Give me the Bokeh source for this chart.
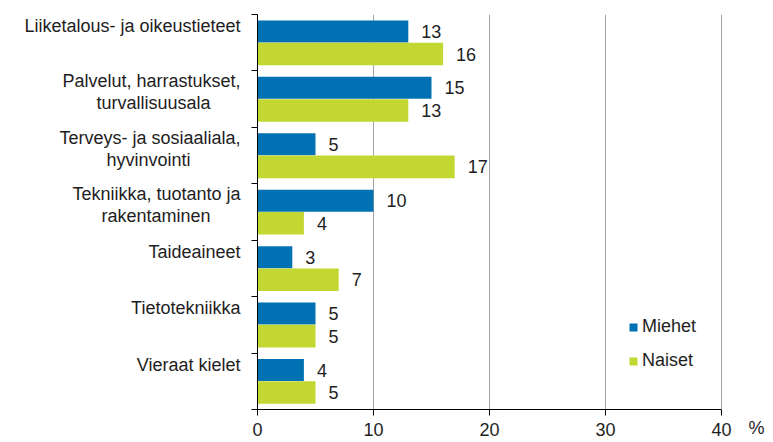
from bokeh.plotting import figure
from bokeh.models import ColumnDataSource, Range1d, FixedTicker, Legend, LegendItem, LinearAxis
from bokeh.core.properties import value
from bokeh.embed import file_html
from bokeh.resources import INLINE

categories = [
    "Liiketalous- ja oikeustieteet",
    "Palvelut, harrastukset,\nturvallisuusala",
    "Terveys- ja sosiaaliala,\nhyvinvointi",
    "Tekniikka, tuotanto ja\nrakentaminen",
    "Taideaineet",
    "Tietotekniikka",
    "Vieraat kielet",
]
miehet = [13, 15, 5, 10, 3, 5, 4]
naiset = [16, 13, 17, 4, 7, 5, 5]
x_ticks = [0, 10, 20, 30, 40]
series_names = ["Miehet", "Naiset"]
unit_label = "%"

BLUE = "#0071b3"
GREEN = "#c2d731"
FONT = "Liberation Sans"
TXT = "#1e1e1e"

# approximate Arial / Liberation Sans advance widths (per 1000 em), used to
# centre the lines of the two-line category names like the original
ADV = {c: 556 for c in "abdeghnopqu"}
ADV.update({"c": 500, "f": 278, "i": 222, "j": 222, "k": 500, "l": 222, "m": 833,
            "r": 333, "s": 500, "t": 278, "v": 500, "w": 722, "x": 500, "y": 500,
            "z": 500, "L": 556, "P": 667, "T": 611, "V": 667, ",": 278, "-": 333,
            " ": 278})
NBSP = "\u00a0"


def width_em(s):
    return sum(ADV.get(ch, 556) for ch in s) / 1000.0


def centred(label):
    lines = label.split("\n")
    if len(lines) == 1:
        return label
    wmax = max(width_em(l) for l in lines)
    out = []
    for l in lines:
        pad = int(round((wmax - width_em(l)) / 2 / 0.278))
        out.append(l + NBSP * pad)
    return "\n".join(out)


W, H = 773, 442
FRAME_L, FRAME_R, FRAME_T, FRAME_B = 257, 756, 14, 409
px_per_x = (721 - FRAME_L) / 40.0
x_end = (FRAME_R - FRAME_L) / px_per_x

n = len(categories)
px_per_band = (FRAME_B - FRAME_T) / n
tops = [n - i for i in range(n)]
blue_y = [t - 0.3 for t in tops]
green_y = [t - 0.7 for t in tops]

p = figure(width=W, height=H, output_backend="svg", toolbar_location=None,
           x_range=Range1d(0, x_end), y_range=Range1d(0, n),
           min_border_left=FRAME_L, min_border_right=W - FRAME_R,
           min_border_top=FRAME_T, min_border_bottom=H - FRAME_B)
p.outline_line_color = None
p.background_fill_color = "white"

src_m = ColumnDataSource(dict(y=blue_y, v=miehet, t=[str(v) for v in miehet]))
src_n = ColumnDataSource(dict(y=green_y, v=naiset, t=[str(v) for v in naiset]))

rm = p.hbar(y="y", right="v", left=0, height=0.39, source=src_m, fill_color=BLUE, line_color=None)
rn = p.hbar(y="y", right="v", left=0, height=0.40, source=src_n, fill_color=GREEN, line_color=None)

for src in (src_m, src_n):
    p.text(x="v", y="y", text="t", source=src, x_offset=13, text_align="left",
           text_baseline="middle", text_font=value(FONT), text_font_size="18px", text_color=TXT)

# x axis
xa = p.xaxis[0]
xa.ticker = FixedTicker(ticks=x_ticks)
xa.bounds = (x_ticks[0], x_ticks[-1])
xa.major_tick_out = 6
xa.major_tick_in = 0
xa.minor_tick_out = 0
xa.minor_tick_in = 0
xa.major_label_standoff = 7
xa.major_label_text_font = FONT
xa.major_label_text_font_size = "18px"
xa.major_label_text_color = TXT
xa.axis_line_color = "black"
xa.major_tick_line_color = "black"
xa.axis_label = unit_label
xa.axis_label_align = "end"
xa.axis_label_standoff = -21
xa.axis_label_text_font = FONT
xa.axis_label_text_font_size = "18px"
xa.axis_label_text_font_style = "normal"
xa.axis_label_text_color = TXT

# y axis with category boundary ticks
ya = p.yaxis[0]
bounds_ticks = list(range(n + 1))
ya.ticker = FixedTicker(ticks=bounds_ticks)
ya.major_label_overrides = {t: "" for t in bounds_ticks}
ya.major_tick_out = 6
ya.major_tick_in = 0
ya.minor_tick_out = 0
ya.minor_tick_in = 0
ya.major_label_standoff = 0
ya.axis_line_color = "black"
ya.major_tick_line_color = "black"

# y axis carrying the category names
label_y = []
for cat, top in zip(categories, tops):
    nl = cat.count("\n")
    label_y.append(round(top - (11.5 + nl * 10.0) / px_per_band, 4))
la = LinearAxis(ticker=FixedTicker(ticks=label_y),
                major_label_overrides={y: centred(c) for y, c in zip(label_y, categories)},
                axis_line_color=None, major_tick_line_color=None, minor_tick_line_color=None,
                major_tick_out=0, major_tick_in=0, minor_tick_out=0, minor_tick_in=0,
                major_label_standoff=11, major_label_text_font=FONT,
                major_label_text_font_size="18px", major_label_text_color=TXT,
                major_label_text_line_height=1.1)
p.add_layout(la, "left")

p.xgrid.ticker = FixedTicker(ticks=x_ticks[1:])
p.xgrid.grid_line_color = "#a6a6a6"
p.ygrid.visible = False

legend = Legend(items=[LegendItem(label=series_names[0], renderers=[rm]),
                       LegendItem(label=series_names[1], renderers=[rn])],
                location=(371, 38), orientation="vertical",
                padding=0, margin=0, spacing=13, glyph_width=10, glyph_height=10,
                label_height=20, label_standoff=4, border_line_color=None,
                background_fill_alpha=0, label_text_font=FONT,
                label_text_font_size="18px", label_text_color=TXT)
p.add_layout(legend)

open("out.html", "w").write(file_html(p, INLINE))
